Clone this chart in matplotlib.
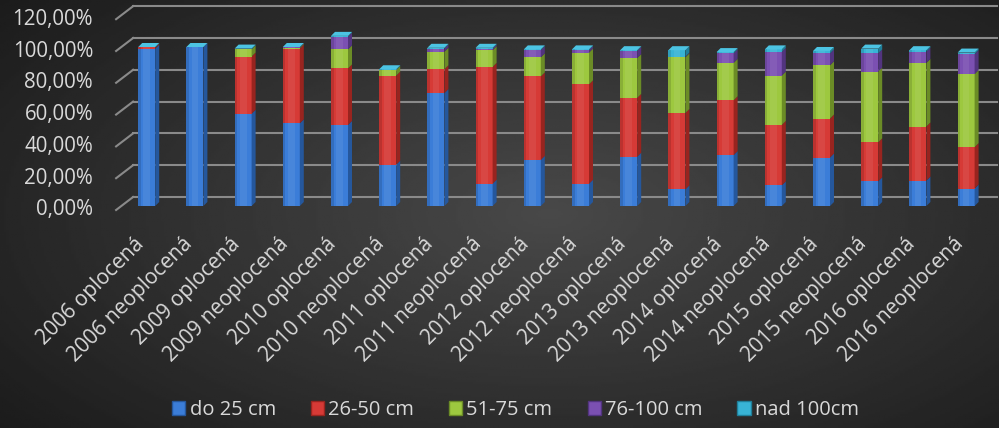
import matplotlib
matplotlib.use("Agg")
import matplotlib.pyplot as plt
from matplotlib.patches import Polygon, Rectangle, Patch
import numpy as np

plt.rcParams['font.family'] = ['Open Sans', 'DejaVu Sans']

### DATA ###
categories = ["2006 oplocená", "2006 neoplocená", "2009 oplocená", "2009 neoplocená",
              "2010 oplocená", "2010 neoplocená", "2011 oplocená", "2011 neoplocená",
              "2012 oplocená", "2012 neoplocená", "2013 oplocená", "2013 neoplocená",
              "2014 oplocená", "2014 neoplocená", "2015 oplocená", "2015 neoplocená",
              "2016 oplocená", "2016 neoplocená"]
series_names = ["do 25 cm", "26-50 cm", "51-75 cm", "76-100 cm", "nad 100cm"]

do25 = [99.0, 100.0, 58.0, 52.0, 51.0, 26.0, 71.0, 14.0, 29.0, 14.0, 31.0, 10.5, 32.0, 13.0, 30.5, 15.5, 16.0, 11.0]
cm26_50 = [0.7, 0.0, 36.0, 47.0, 35.5, 56.0, 15.0, 73.5, 52.5, 62.5, 37.0, 48.0, 34.5, 38.0, 24.5, 24.5, 34.0, 26.0]
cm51_75 = [0.0, 0.0, 4.5, 0.5, 12.0, 3.5, 11.0, 10.5, 12.0, 20.0, 25.0, 35.0, 23.5, 31.0, 33.5, 44.5, 40.0, 46.0]
cm76_100 = [0.0, 0.0, 0.0, 0.3, 8.0, 0.0, 2.0, 1.0, 4.5, 1.5, 4.5, 0.5, 6.0, 15.0, 7.5, 11.5, 7.0, 12.5]
nad100 = [0.3, 0.0, 0.5, 0.2, 0.5, 0.5, 0.5, 0.5, 0.5, 0.5, 0.5, 4.0, 0.8, 1.5, 1.5, 3.0, 1.0, 1.0]

yticks = [0, 20, 40, 60, 80, 100, 120]
ytick_labels = ["0,00%", "20,00%", "40,00%", "60,00%", "80,00%", "100,00%", "120,00%"]

# colours: front, side, top
front_cols = ["#3b7dd8", "#d63a36", "#9dc83f", "#7b50b2", "#38b4d6"]
side_cols = ["#25579c", "#98241f", "#6b8c26", "#52347f", "#1f7f99"]
top_col = "#4cc4e3"
txt_col = "#d9d9d9"
grid_col = "#8a8a8a"

### FIGURE ###
fig = plt.figure(figsize=(9.99, 4.28), dpi=100)

# dark gradient background
bg = fig.add_axes([0, 0, 1, 1])
yy, xx = np.mgrid[0:1:200j, 0:1:400j]
r = np.sqrt(((xx - 0.55) / 0.8) ** 2 + ((yy - 0.5) / 0.9) ** 2)
bg.imshow(0.285 - 0.2 * r, cmap="gray", vmin=0, vmax=1, aspect="auto", extent=[0, 1, 0, 1])
bg.set_axis_off()

# plot area (bar plane): category i at px 146.7 + 48.2*i, 0% at px 206, 1% = 1.59 px
XPX = 48.2
YPX = 1.59
ax = fig.add_axes([122.6 / 999, (428 - 206) / 428, 867.6 / 999, 120 * YPX / 428])
ax.set_xlim(-0.5, 17.5)
ax.set_ylim(0, 120)
ax.set_axis_off()

# depth offsets (pixels) for wall and front plane
wall_dx, wall_dy = 10.5 / XPX, 9 / YPX
front_dx, front_dy = -6.5 / XPX, -4 / YPX
x0 = -0.5
x_end = -0.5 + (997 - 122.6) / XPX

# gridlines on back wall + diagonals on the side
for v, lab in zip(yticks, ytick_labels):
    ax.plot([x0 + wall_dx, x_end], [v + wall_dy, v + wall_dy], color=grid_col, lw=1.5, clip_on=False, zorder=1)
    ax.plot([x0 + front_dx, x0 + wall_dx], [v + front_dy, v + wall_dy], color=grid_col, lw=1.5, clip_on=False, zorder=1)
    ax.annotate(lab, (x0 + front_dx, v + front_dy), xytext=(-23, 0), textcoords="offset pixels",
                ha="right", va="center", color=txt_col, fontsize=14.8, annotation_clip=False)

# stacked 3D-ish bars
series = [do25, cm26_50, cm51_75, cm76_100, nad100]
W = 17 / XPX
ddx, ddy = 4 / XPX, 4 / YPX
for i in range(len(categories)):
    bottom = 0.0
    for s, vals in enumerate(series):
        v = vals[i]
        top = bottom + v
        if v > 0:
            ax.add_patch(Rectangle((i - W / 2, bottom), W, v, facecolor=front_cols[s], edgecolor="none",
                                   zorder=3, clip_on=False))
            ax.add_patch(Polygon([(i + W / 2, bottom), (i + W / 2 + ddx, bottom + ddy),
                                  (i + W / 2 + ddx, top + ddy), (i + W / 2, top)],
                                 facecolor=side_cols[s], edgecolor="none", zorder=3, clip_on=False))
        bottom = top
    # soft highlight / shadow on the front face
    ax.add_patch(Rectangle((i - W / 2, 0), W * 0.15, bottom, facecolor="black", alpha=0.12,
                           edgecolor="none", zorder=4, clip_on=False))
    ax.add_patch(Rectangle((i - W * 0.2, 0), W * 0.4, bottom, facecolor="white", alpha=0.07,
                           edgecolor="none", zorder=4, clip_on=False))
    ax.add_patch(Polygon([(i - W / 2, bottom), (i + W / 2, bottom), (i + W / 2 + ddx, bottom + ddy),
                          (i - W / 2 + ddx, bottom + ddy)], facecolor=top_col, edgecolor="none",
                         zorder=3, clip_on=False))
    # category label
    ax.annotate(categories[i], (i, 0), xytext=(-6, -35), textcoords="offset pixels",
                rotation=45, rotation_mode="anchor", ha="right", va="center",
                color=txt_col, fontsize=15, annotation_clip=False)

# legend
handles = [Patch(facecolor=front_cols[s], edgecolor=side_cols[s]) for s in range(5)]
fig.legend(handles, series_names, loc="center", bbox_to_anchor=(515.5 / 999, 1 - 410 / 428), ncol=5,
           frameon=False, fontsize=14.5, labelcolor=txt_col, handlelength=0.65, handleheight=0.7,
           handletextpad=0.2, columnspacing=1.75)

fig.savefig("out.png", dpi=100)
